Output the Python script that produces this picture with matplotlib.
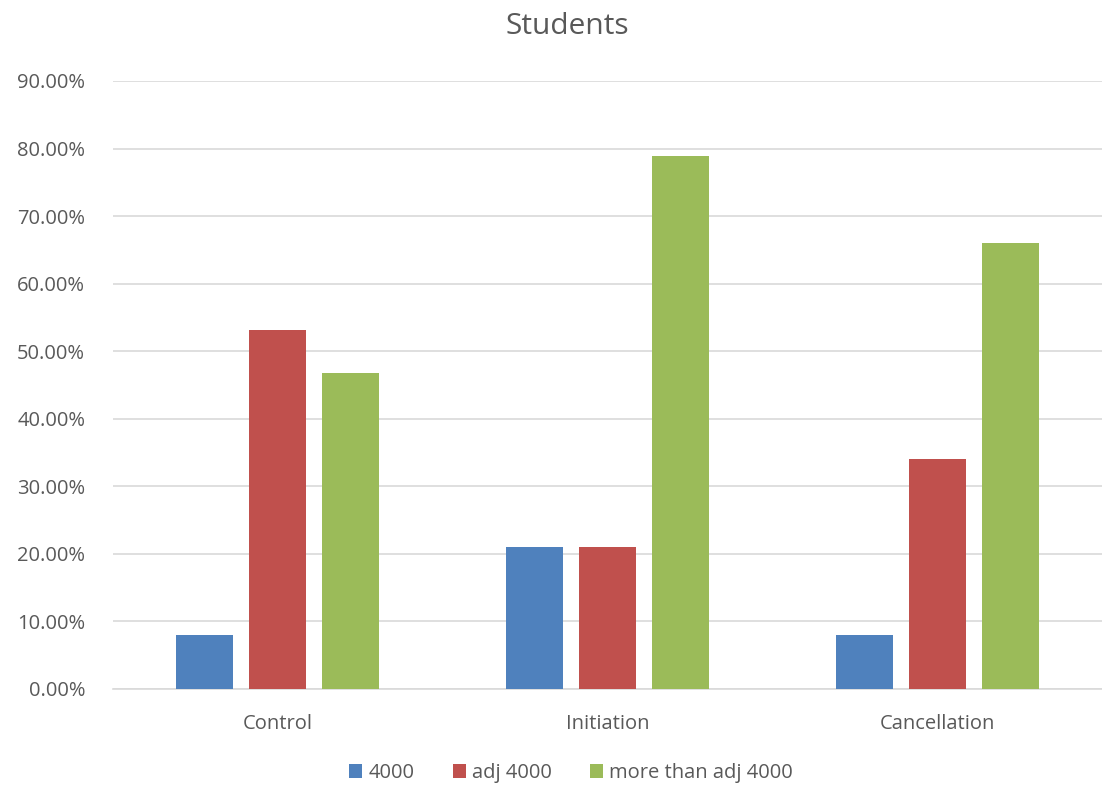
import numpy as np
import matplotlib.pyplot as plt
from matplotlib.ticker import PercentFormatter

categories = ["Control", "Initiation", "Cancellation"]
series_names = ["4000", "adj 4000", "more than adj 4000"]
vals_4000 = [8.0, 21.05, 8.0]
vals_adj = [53.19, 21.05, 34.0]
vals_more = [46.81, 78.95, 66.0]
colors = ["#4F81BD", "#C0504D", "#9BBB59"]

plt.rcParams["font.family"] = ["Open Sans", "DejaVu Sans"]
txt = "#595959"

fig = plt.figure(figsize=(11.02, 7.93), dpi=100)
ax = fig.add_axes([113 / 1102, 1 - 689 / 793, 989 / 1102, 608 / 793])

x = np.arange(len(categories))
w = 0.173
off = 0.221
for i, (vals, name) in enumerate(zip([vals_4000, vals_adj, vals_more], series_names)):
    ax.bar(x + (i - 1) * off, vals, width=w, color=colors[i], label=name, zorder=3)

ax.set_xlim(-0.5, 2.5)
ax.set_ylim(0, 90)
ax.set_yticks(np.arange(0, 91, 10))
ax.yaxis.set_major_formatter(PercentFormatter(decimals=2))
ax.set_xticks(x)
ax.set_xticklabels(categories)
ax.grid(axis="y", color="#d9d9d9", lw=1.2, zorder=0)
for s in ["top", "right", "left"]:
    ax.spines[s].set_visible(False)
ax.spines["bottom"].set_color("#d9d9d9")
ax.spines["bottom"].set_linewidth(1.2)
ax.tick_params(length=0, labelsize=14.5, colors=txt)
ax.tick_params(axis="x", pad=18)
ax.tick_params(axis="y", pad=20)

fig.text(567 / 1102, 1 - 27 / 793, "Students", ha="center", va="center",
         fontsize=21.5, color=txt)

fig.legend(loc="center", bbox_to_anchor=(571 / 1102, 1 - 773 / 793), ncol=3,
           frameon=False, fontsize=14.5, labelcolor=txt, handlelength=0.65,
           handleheight=0.65, handletextpad=0.3, columnspacing=1.9)

fig.savefig("out.png", dpi=100)
